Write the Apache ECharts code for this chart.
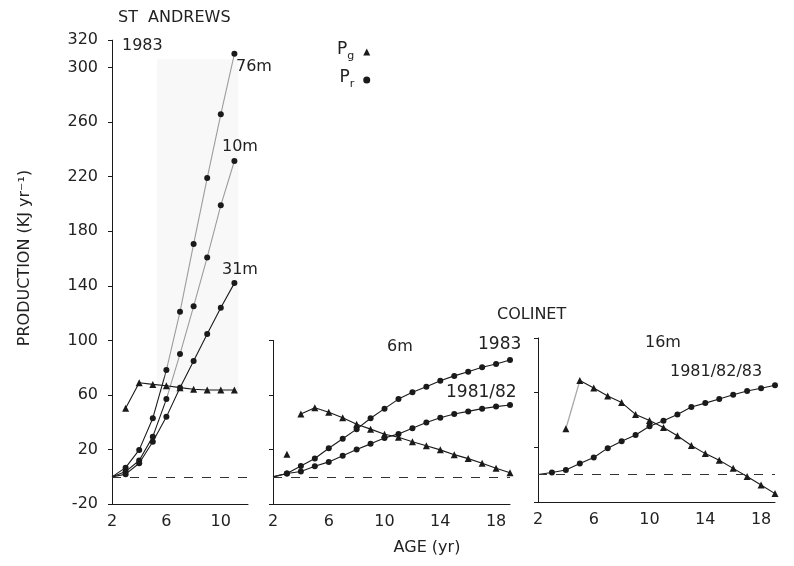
<!DOCTYPE html>
<html><head><meta charset="utf-8">
<script src="https://cdn.jsdelivr.net/npm/echarts@6/dist/echarts.min.js"></script>
<style>html,body{margin:0;padding:0;background:#fff}#c{width:794px;height:566px}</style>
</head><body><div id="c"></div>
<script>
// ---------- data ----------
// St Andrews 1983
const ageStA   = [2, 3, 4, 5, 6, 7, 8, 9, 10, 11];
const prStA76  = [0, 6.8, 19.8, 43, 78.3, 121, 170.6, 219, 265.7, 310];
const prStA10  = [0, 3.9, 12, 29.5, 57, 90, 125, 160.8, 199, 231.5];
const prStA31  = [0, 2, 10, 25.8, 44, 65.4, 85, 104.7, 124, 142];
const ageStAPg = [3, 4, 5, 6, 7, 8, 9, 10, 11];
const pgStA    = [50.3, 69, 67.8, 66.8, 65.4, 64.2, 63.7, 63.7, 63.7];

// Colinet 6m
const ageCol     = [2, 3, 4, 5, 6, 7, 8, 9, 10, 11, 12, 13, 14, 15, 16, 17, 18, 19];
const pr6m1983   = [0, 2.5, 8, 13.5, 21, 28, 35, 43, 50, 57, 62, 66, 70.5, 74, 77, 80.3, 82.7, 85.7];
const pr6m8182   = [0, 2.5, 4, 7.8, 11, 15.5, 20, 24.2, 28.5, 31.5, 35.7, 39.8, 43.4, 46.1, 48, 50, 51.5, 52.7];
const age6mPgSolo = [3];
const pg6mSolo    = [16.6];
const age6mPg    = [4, 5, 6, 7, 8, 9, 10, 11, 12, 13, 14, 15, 16, 17, 18, 19];
const pg6m       = [46, 50.7, 47.4, 43.4, 38.6, 35, 31.3, 29, 25.8, 22.8, 19.8, 16.3, 13.4, 10, 6.4, 3.1];

// Colinet 16m (1981/82/83)
const pr16m       = [0, 1.5, 3.3, 8, 12.5, 19.3, 24.4, 29, 35.4, 39.3, 44, 49.5, 52.3, 55.3, 58.4, 61.2, 63.2, 65.4];
const age16mPgSolo = [4];
const pg16mSolo    = [33.5];
const age16mLink   = [4, 5];
const pg16mLink    = [33.5, 68.8];
const age16mPg    = [5, 6, 7, 8, 9, 10, 11, 12, 13, 14, 15, 16, 17, 18, 19];
const pg16m       = [68.8, 63.4, 57.5, 52.7, 44, 39.5, 34.5, 28.4, 21.2, 15.3, 10.5, 4.5, -1.5, -7.7, -14];

// axis ticks
const yTicksMain = {min: -20, max: 320, interval: 40};
const yTicksSub  = {min: -20, max: 100, interval: 40};
const xTicksStA  = {min: 2, max: 12, interval: 4};
const xTicksCol  = {min: 2, max: 19, interval: 4};

// ---------- chart ----------
const FONT = 'DejaVu Sans';
const INK = '#1a1a1a';
const chart = echarts.init(document.getElementById('c'), null, {renderer: 'canvas'});

function pts(xs, ys) {
  return xs.map((x, i) => {
    const d = {value: [x, ys[i]]};
    if (x === 2 && ys[i] === 0) d.symbol = 'none';
    return d;
  });
}
function fadedLine() {
  return new echarts.graphic.LinearGradient(0, 0, 0, 1, [
    {offset: 0, color: '#9c9c9c'}, {offset: 0.73, color: '#9c9c9c'},
    {offset: 0.77, color: INK}, {offset: 1, color: INK}]);
}
function lineSeries(name, g, xs, ys, sym, extra) {
  return Object.assign({
    type: 'line', name: name, xAxisIndex: g, yAxisIndex: g,
    data: pts(xs, ys), symbol: sym, symbolSize: sym === 'triangle' ? 7 : 6,
    color: INK, itemStyle: {color: INK},
    lineStyle: {color: INK, width: 1.1}, animation: false, z: 3
  }, extra || {});
}
function zeroLine() {
  return {silent: true, symbol: 'none', label: {show: false},
    lineStyle: {color: '#333', type: [9, 9], width: 1},
    data: [{yAxis: 0}], animation: false};
}
function yAx(g, t, labels) {
  return {type: 'value', gridIndex: g, min: t.min, max: t.max, interval: t.interval,
    axisLine: {show: true, lineStyle: {color: INK, width: 1}},
    axisTick: {show: true, inside: false, length: 4, lineStyle: {color: INK}},
    axisLabel: {show: labels, margin: 14, fontFamily: FONT, fontSize: 16, color: '#222'},
    splitLine: {show: false}};
}
function xAx(g, t) {
  return {type: 'value', gridIndex: g, min: t.min, max: t.max, interval: t.interval,
    axisLine: {show: true, onZero: false, lineStyle: {color: INK, width: 1}},
    axisTick: {show: false},
    axisLabel: {show: true, margin: 10, fontFamily: FONT, fontSize: 16, color: '#222', showMaxLabel: false},
    splitLine: {show: false}};
}
function txt(x, y, s, size, extra) {
  return Object.assign({type: 'text', x: x, y: y, silent: true, z: 100,
    style: {text: s, fill: '#222', font: (size || 15) + 'px "' + FONT + '"', textVerticalAlign: 'middle'}}, extra || {});
}

const option = {
  backgroundColor: '#fff',
  animation: false,
  grid: [
    {left: 112, top: 40.2, width: 136, height: 464, containLabel: false, outerBoundsMode: 'none'},
    {left: 273, top: 340.4, width: 237, height: 163.8, containLabel: false, outerBoundsMode: 'none'},
    {left: 538, top: 338, width: 237, height: 163.8, containLabel: false, outerBoundsMode: 'none'}
  ],
  xAxis: [xAx(0, xTicksStA), xAx(1, xTicksCol), xAx(2, xTicksCol)],
  yAxis: [yAx(0, yTicksMain, true), yAx(1, yTicksSub, false), yAx(2, yTicksSub, false)],
  legend: {
    orient: 'vertical', left: 332, top: 36, align: 'right', itemGap: 6,
    itemWidth: 7, itemHeight: 7, selectedMode: false,
    data: [{name: 'Pg', icon: 'triangle'}, {name: 'Pr', icon: 'circle'}],
    formatter: n => '{p|P}{s|' + n.slice(1) + '}',
    textStyle: {color: '#222', rich: {
      p: {fontFamily: FONT, fontSize: 17, lineHeight: 22, verticalAlign: 'top', color: '#222'},
      s: {fontFamily: FONT, fontSize: 11, lineHeight: 22, verticalAlign: 'bottom', color: '#222', padding: [0, 4, 1, 0]}
    }}
  },
  series: [
    // St Andrews
    lineSeries('Pr', 0, ageStA, prStA76, 'circle', {lineStyle: {color: fadedLine(), width: 1.1},
      markArea: {silent: true, itemStyle: {color: '#f8f8f8'}, z: 0, data: [[{xAxis: 5.3, yAxis: 62}, {xAxis: 11.3, yAxis: 306}]]},
      markLine: zeroLine()}),
    lineSeries('Pr', 0, ageStA, prStA10, 'circle', {lineStyle: {color: fadedLine(), width: 1.1}}),
    lineSeries('Pr', 0, ageStA, prStA31, 'circle'),
    lineSeries('Pg', 0, ageStAPg, pgStA, 'triangle'),
    // Colinet 6m
    lineSeries('Pr', 1, ageCol, pr6m1983, 'circle', {markLine: zeroLine()}),
    lineSeries('Pr', 1, ageCol, pr6m8182, 'circle'),
    lineSeries('Pg', 1, age6mPg, pg6m, 'triangle'),
    lineSeries('Pg', 1, age6mPgSolo, pg6mSolo, 'triangle'),
    // Colinet 16m
    lineSeries('Pr', 2, ageCol, pr16m, 'circle', {markLine: zeroLine()}),
    lineSeries('Pg', 2, age16mLink, pg16mLink, 'none', {lineStyle: {color: '#a8a8a8', width: 1.3}, z: 2}),
    lineSeries('Pg', 2, age16mPg, pg16m, 'triangle'),
    lineSeries('Pg', 2, age16mPgSolo, pg16mSolo, 'triangle')
  ],
  graphic: [
    txt(118, 18, 'ST  ANDREWS', 16),
    txt(122, 46, '1983', 16),
    txt(236, 67, '76m', 16),
    txt(222, 147, '10m', 16),
    txt(222, 270, '31m', 16),
    txt(497, 315, 'COLINET', 16),
    txt(387, 347, '6m', 16),
    txt(478, 345, '1983', 17),
    txt(446, 393, '1981/82', 17),
    txt(645, 343, '16m', 16),
    txt(670, 372, '1981/82/83', 16),
    txt(25, 258, 'PRODUCTION (KJ yr\u207B\u00B9)', 16, {rotation: Math.PI / 2, style: {text: 'PRODUCTION (KJ yr\u207B\u00B9)', fill: '#222', font: '16px "' + FONT + '"', textAlign: 'center', textVerticalAlign: 'middle'}}),
    txt(427, 548, 'AGE (yr)', 16, {style: {text: 'AGE (yr)', fill: '#222', font: '16px "' + FONT + '"', textAlign: 'center', textVerticalAlign: 'middle'}})
  ]
};
chart.setOption(option);
</script></body></html>
